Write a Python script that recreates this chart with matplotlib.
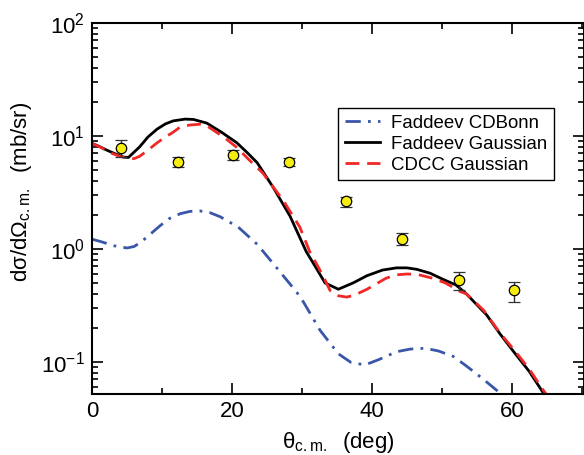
import matplotlib
matplotlib.use("Agg")
import matplotlib.pyplot as plt
from matplotlib.ticker import LogLocator, MultipleLocator, NullFormatter

plt.rcParams['font.family'] = ['Liberation Sans', 'DejaVu Sans']
plt.rcParams['mathtext.fontset'] = 'custom'
plt.rcParams['mathtext.rm'] = 'Liberation Sans'
plt.rcParams['mathtext.it'] = 'Liberation Sans'
plt.rcParams['mathtext.default'] = 'regular'
plt.rcParams['axes.unicode_minus'] = False

# ---- data ----
exp_x = [4.1, 12.3, 20.2, 28.2, 36.3, 44.3, 52.4, 60.3]
exp_y = [7.8, 5.9, 6.8, 5.9, 2.65, 1.23, 0.53, 0.43]
exp_err_lo = [1.3, 0.6, 0.65, 0.5, 0.28, 0.15, 0.10, 0.09]
exp_err_hi = [1.4, 0.6, 0.7, 0.5, 0.25, 0.16, 0.095, 0.08]

fg_x = [0, 1.0, 2.1, 3.2, 4.5, 5.2, 6.8, 8.0, 9.3, 10.5, 11.6, 13.3, 14.5, 16.4,
        17.3, 18.5, 20.7, 22.2, 23.6, 25.9, 28.3, 30.6, 31.9, 33.3, 35.2, 37.3,
        39.3, 41.5, 43.5, 45.0, 46.4, 48.3, 50.1, 52.0, 53.5, 55.0, 56.4, 58.3,
        60.3, 62.5, 64.5, 66.0]
fg_y = [8.6, 8.1, 7.5, 7.0, 6.5, 6.45, 8.0, 9.8, 11.5, 12.8, 13.6, 14.1, 14.0, 13.0,
        12.0, 10.8, 8.7, 7.1, 5.8, 3.5, 1.95, 0.95, 0.7, 0.5, 0.44, 0.5,
        0.58, 0.65, 0.68, 0.68, 0.66, 0.61, 0.54, 0.48, 0.4, 0.32, 0.26, 0.177,
        0.122, 0.082, 0.053, 0.04]

cdcc_x = [0, 1.3, 2.6, 4.0, 5.2, 6.0, 6.8, 8.0, 9.3, 10.5, 11.6, 12.6, 14.0, 15.4,
          16.4, 17.3, 19.0, 20.7, 22.5, 24.4, 27.3, 29.7, 31.1, 33.0, 34.0, 35.2,
          36.4, 37.5, 39.3, 42.0, 43.5, 45.0, 46.5, 48.7, 50.5, 52.6, 53.5, 56.0,
          58.3, 60.3, 62.5, 64.5, 66.0]
cdcc_y = [8.6, 7.9, 7.1, 6.6, 6.35, 6.3, 6.6, 7.5, 8.7, 9.8, 10.8, 12.0, 12.5, 12.7,
          12.3, 11.3, 9.6, 7.9, 6.1, 4.7, 2.7, 1.56, 0.95, 0.58, 0.43, 0.385,
          0.375, 0.39, 0.44, 0.55, 0.59, 0.60, 0.595, 0.55, 0.5, 0.42, 0.4, 0.285,
          0.18, 0.128, 0.086, 0.056, 0.042]

cdb_x = [0, 1.5, 3.0, 5.0, 6.0, 7.0, 8.5, 9.7, 11.0, 12.6, 14.0, 15.4, 16.8, 18.3,
         20.9, 23.6, 26.4, 29.3, 30.2, 32.6, 35.2, 37.0, 39.0, 41.0, 43.5, 45.5,
         47.6, 49.5, 51.6, 53.5, 55.7, 58.3, 60.0]
cdb_y = [1.22, 1.15, 1.07, 1.02, 1.05, 1.15, 1.38, 1.6, 1.85, 2.05, 2.15, 2.17, 2.1, 1.93,
         1.56, 1.1, 0.68, 0.41, 0.34, 0.19, 0.118, 0.099, 0.094, 0.105, 0.123, 0.13,
         0.132, 0.125, 0.112, 0.092, 0.072, 0.053, 0.043]

labels = ["Faddeev CDBonn", "Faddeev Gaussian", "CDCC Gaussian"]

# ---- figure ----
fig = plt.figure(figsize=(5.84, 4.55), dpi=100)
W, H = 584, 455
ax = fig.add_axes([92 / W, (H - 394) / H, (584 - 92) / W, (394 - 23) / H])

ax.plot(cdb_x, cdb_y, color='#3a56a8', lw=2.0, dashes=(5.5, 2.6, 1.0, 2.6), label=labels[0])
ax.plot(fg_x, fg_y, color='black', lw=2.0, label=labels[1])
ax.plot(cdcc_x, cdcc_y, color='#f02828', lw=2.0, dashes=(5.0, 2.8), label=labels[2])

ax.errorbar(exp_x, exp_y, yerr=[exp_err_lo, exp_err_hi], fmt='o', ms=7.5,
            mfc='#f5ee10', mec='black', mew=0.9, ecolor='#333333', elinewidth=1.0,
            capsize=4.5, capthick=1.0, zorder=5)

ax.set_yscale('log')
ax.set_xlim(0, 70.3)
ax.set_ylim(0.052, 100)

ax.xaxis.set_major_locator(MultipleLocator(20))
ax.xaxis.set_minor_locator(MultipleLocator(10))
ax.yaxis.set_major_locator(LogLocator(base=10, numticks=10))
ax.yaxis.set_minor_locator(LogLocator(base=10, subs=range(2, 10), numticks=20))
ax.yaxis.set_minor_formatter(NullFormatter())

ax.tick_params(which='both', direction='in', top=True, right=True, width=1.2)
ax.tick_params(which='major', length=8, labelsize=16, pad=5)
ax.tick_params(which='minor', length=4.5)
ax.tick_params(axis='x', which='major', pad=5)

for s in ax.spines.values():
    s.set_linewidth(1.5)

ax.set_ylabel('dσ/dΩ$_{c.m.}$  (mb/sr)', fontsize=16)
ax.yaxis.set_label_coords(-0.118, 0.545)
ax.set_xlabel('θ$_{c.m.}$  (deg)', fontsize=16)
ax.xaxis.set_label_coords(0.5, -0.097)

leg = ax.legend(loc='upper left', bbox_to_anchor=(0.5, 0.771), borderaxespad=0,
                fontsize=13.4, frameon=True, fancybox=False, framealpha=1,
                edgecolor='black', handlelength=1.9, handletextpad=0.6,
                labelspacing=0.22, borderpad=0.35)
leg.get_frame().set_linewidth(1.0)

fig.savefig('out.png', dpi=100)
